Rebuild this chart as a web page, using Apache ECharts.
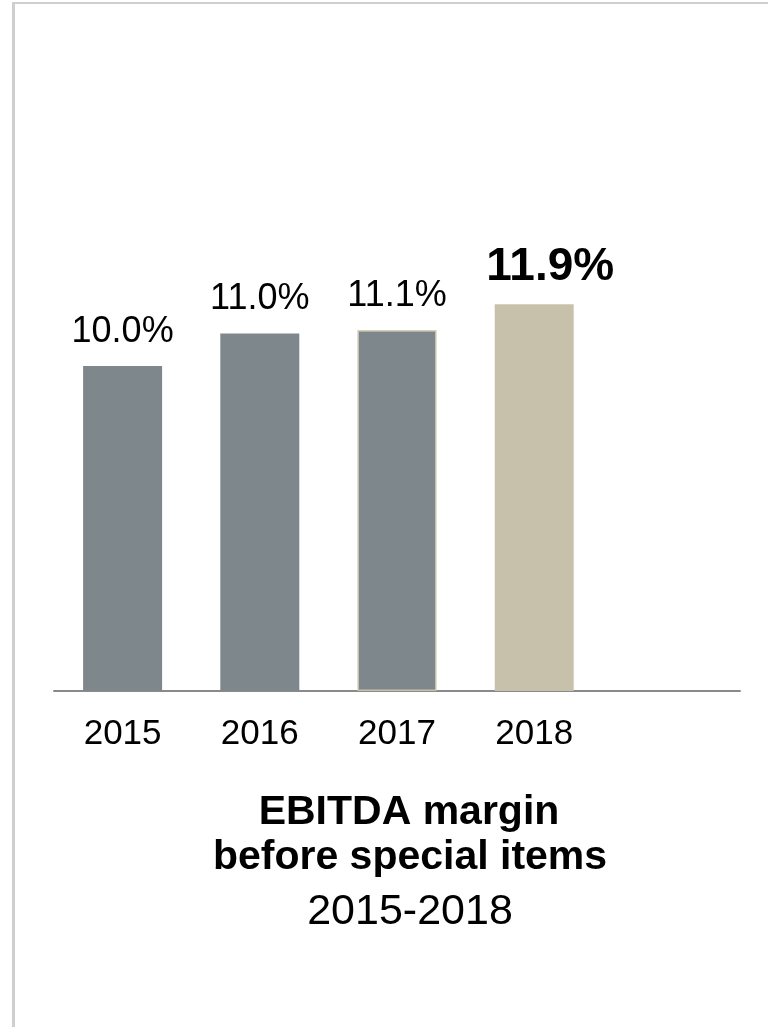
<!DOCTYPE html>
<html>
<head>
<meta charset="utf-8">
<title>EBITDA margin before special items 2015-2018</title>
<script src="https://cdn.jsdelivr.net/npm/echarts@6/dist/echarts.min.js"></script>
<style>
  html, body { margin: 0; padding: 0; background: #ffffff; }
  #chart { position: absolute; left: 0; top: 0; width: 768px; height: 1027px; }
  #frame {
    position: absolute; left: 12px; top: 2px; right: 0; bottom: 0;
    border-left: 3px solid #cfcfcd; border-top: 2px solid #cfcfcd;
    pointer-events: none;
  }
</style>
</head>
<body>
<div id="chart"></div>
<div id="frame"></div>
<script>
// Reporting years and EBITDA margin before special items (%)
const years = ['2015', '2016', '2017', '2018'];
const margins = [10.0, 11.0, 11.1, 11.9];
// Latest year is highlighted in beige
const highlightYear = '2018';

const titleLines = ['EBITDA margin', 'before special items'];
const periodLabel = '2015-2018';

const FONT = '"Liberation Sans", Arial, Helvetica, sans-serif';
const GREY = '#7e878c';
const BEIGE = '#c7c0aa';

// one empty slot after the last year keeps the axis running past the bars
const categories = years.concat(['']);

const barData = margins.map((v, i) => {
  const isHighlight = years[i] === highlightYear;
  const item = {
    value: v,
    itemStyle: { color: isHighlight ? BEIGE : GREY }
  };
  if (years[i] === '2017') {
    item.itemStyle.borderColor = BEIGE;
    item.itemStyle.borderWidth = 1.5;
  }
  if (isHighlight) {
    item.label = {
      fontSize: 46,
      lineHeight: 46,
      fontWeight: 'bold',
      distance: 14,
      offset: [16, 0]
    };
  }
  return item;
});

const chart = echarts.init(document.getElementById('chart'));
chart.setOption({
  backgroundColor: '#ffffff',
  animation: false,
  title: [
    {
      text: titleLines[0],
      left: 404, top: 787, textAlign: 'center',
      textStyle: { fontFamily: FONT, fontSize: 41, lineHeight: 41, fontWeight: 'bold', color: '#000000' }
    },
    {
      text: titleLines[1],
      left: 405, top: 832, textAlign: 'center',
      textStyle: { fontFamily: FONT, fontSize: 41, lineHeight: 41, fontWeight: 'bold', color: '#000000' }
    },
    {
      text: periodLabel,
      left: 405, top: 886, textAlign: 'center',
      textStyle: { fontFamily: FONT, fontSize: 43, lineHeight: 43, fontWeight: 'normal', color: '#000000' }
    }
  ],
  grid: { left: 54, right: 28, top: 171, bottom: 336, containLabel: false },
  xAxis: {
    type: 'category',
    data: categories,
    boundaryGap: true,
    axisLine: { show: true, lineStyle: { color: '#8a8a8a', width: 2 } },
    axisTick: { show: false },
    axisLabel: {
      fontFamily: FONT, fontSize: 35, lineHeight: 35, color: '#000000', margin: 26
    },
    splitLine: { show: false }
  },
  yAxis: {
    type: 'value',
    min: 0, max: 16,
    show: false
  },
  series: [{
    type: 'bar',
    data: barData,
    barWidth: 79,
    label: {
      show: true,
      position: 'top',
      distance: 16,
      fontFamily: FONT,
      fontSize: 36,
      lineHeight: 36,
      color: '#000000',
      formatter: p => p.value.toFixed(1) + '%'
    }
  }]
});
</script>
</body>
</html>
